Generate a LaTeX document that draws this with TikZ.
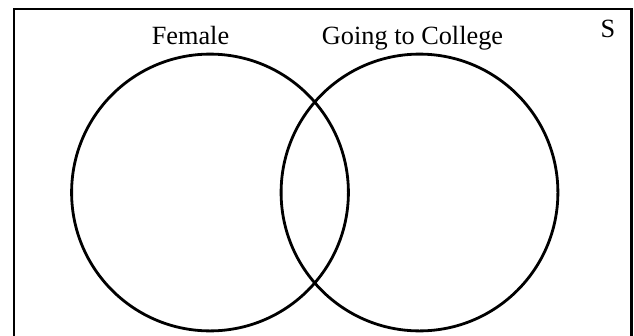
\documentclass[tikz,border=0pt]{standalone}
\usepackage{fontspec}
\setmainfont{Liberation Serif}
\tikzset{
  frame/.style={line width=2.8pt},
  setcircle/.style={circle, draw, line width=2.8pt, minimum size=276.8pt, inner sep=0pt},
  lbl/.style={font=\fontsize{26.3}{29}\selectfont, anchor=base, inner sep=0pt}
}
\begin{document}
\begin{tikzpicture}[x=1pt,y=-1pt]
\useasboundingbox (0,0) rectangle (634,335);
\fill[white] (0,0) rectangle (634,335);
\draw[frame] (14,9) rectangle (631.3,340);
\node[setcircle] (female) at (210,192.5) {};
\node[setcircle] (college) at (419.5,192.5) {};
\node[lbl] (flbl) at (190.5,44.5) {Female};
\node[lbl] (clbl) at (412.5,44.5) {Going to College};
\node[lbl] (slbl) at (608,37) {S};
\end{tikzpicture}
\end{document}
